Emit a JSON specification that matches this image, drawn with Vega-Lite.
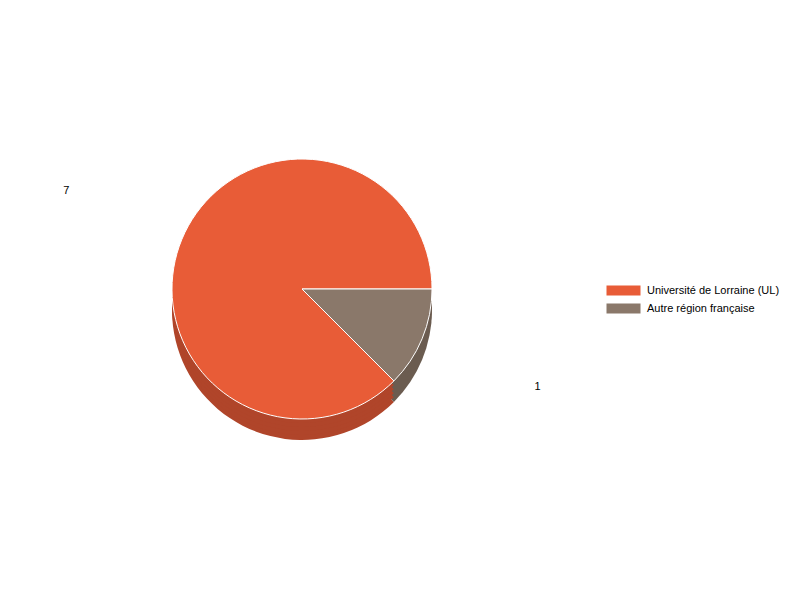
{
  "$schema": "https://vega.github.io/schema/vega-lite/v6.json",
  "description": "3D-style pie: Université de Lorraine vs autre région",
  "width": 604,
  "height": 578,
  "autosize": {"type": "none"},
  "padding": {"left": 0, "top": 0, "right": 196, "bottom": 22},
  "background": "white",
  "config": {"view": {"stroke": null}},
  "data": {
    "values": [
      {"label": "Université de Lorraine (UL)", "value": 7},
      {"label": "Autre région française", "value": 1}
    ]
  },
  "encoding": {
    "theta": {"field": "value", "type": "quantitative", "stack": true, "scale": {"range": [1.5707963, 7.8539816]}},
    "order": {"field": "value", "type": "quantitative", "sort": "ascending"}
  },
  "layer": [
    {
      "mark": {"type": "arc", "outerRadius": 130, "yOffset": 21},
      "encoding": {"color": {"condition": {"test": "datum.label === 'Autre région française'", "value": "#6B5C50"}, "value": "#B0452A"}}
    },
    {
      "mark": {"type": "arc", "outerRadius": 130, "yOffset": 16},
      "encoding": {"color": {"condition": {"test": "datum.label === 'Autre région française'", "value": "#6B5C50"}, "value": "#B0452A"}}
    },
    {
      "mark": {"type": "arc", "outerRadius": 130, "yOffset": 12},
      "encoding": {"color": {"condition": {"test": "datum.label === 'Autre région française'", "value": "#6B5C50"}, "value": "#B0452A"}}
    },
    {
      "mark": {"type": "arc", "outerRadius": 130, "yOffset": 8},
      "encoding": {"color": {"condition": {"test": "datum.label === 'Autre région française'", "value": "#6B5C50"}, "value": "#B0452A"}}
    },
    {
      "mark": {"type": "arc", "outerRadius": 130, "yOffset": 4},
      "encoding": {"color": {"condition": {"test": "datum.label === 'Autre région française'", "value": "#6B5C50"}, "value": "#B0452A"}}
    },
    {
      "mark": {"type": "arc", "outerRadius": 130, "stroke": "white", "strokeWidth": 1},
      "encoding": {
        "color": {
          "field": "label",
          "type": "nominal",
          "scale": {"domain": ["Université de Lorraine (UL)", "Autre région française"], "range": ["#E85C37", "#8A786A"]},
          "legend": {
            "title": null,
            "orient": "none",
            "legendX": 615,
            "legendY": 282,
            "symbolType": "M-2,-0.6H2V0.6H-2Z",
            "symbolSize": 289,
            "symbolStrokeWidth": 0,
            "labelFont": "Liberation Sans",
            "labelFontSize": 11,
            "labelColor": "black",
            "labelOffset": 15,
            "rowPadding": 4
          }
        }
      }
    },
    {
      "mark": {"type": "text", "radius": 255, "font": "Liberation Sans", "fontSize": 11, "color": "black"},
      "encoding": {"text": {"field": "value", "type": "quantitative"}}
    }
  ]
}
